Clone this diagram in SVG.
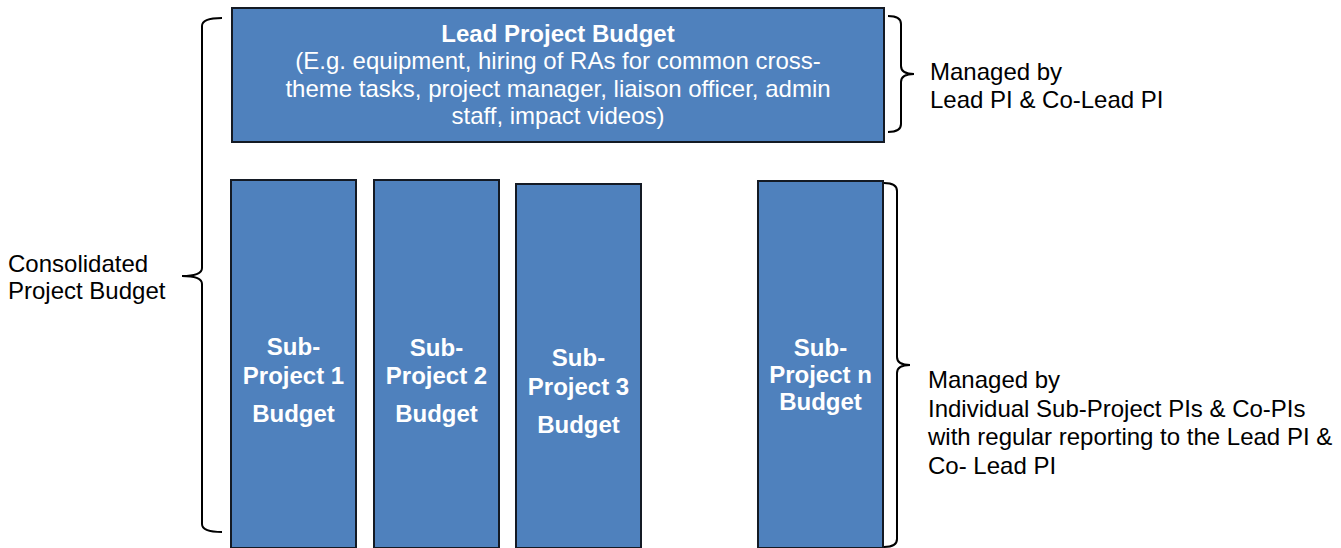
<svg xmlns="http://www.w3.org/2000/svg" width="1341" height="548" viewBox="0 0 1341 548">
<style>
.box{fill:#4F81BD;stroke:#141a24;stroke-width:2}
.br{fill:none;stroke:#000;stroke-width:2}
.wb{font-family:"Liberation Sans",Arial,sans-serif;font-size:24px;font-weight:bold;fill:#fff;text-anchor:middle}
.w{font-family:"Liberation Sans",Arial,sans-serif;font-size:24px;fill:#fff;text-anchor:middle}
.k{font-family:"Liberation Sans",Arial,sans-serif;font-size:24px;fill:#000}
</style>
<rect width="1341" height="548" fill="#fff"/>
<g id="lead">
<rect class="box" x="232" y="8" width="652" height="134"/>
<text class="wb" x="558" y="42">Lead Project Budget</text>
<text class="w" x="558" y="69">(E.g. equipment, hiring of RAs for common cross-</text>
<text class="w" x="558" y="96.5">theme tasks, project manager, liaison officer, admin</text>
<text class="w" x="558" y="124">staff, impact videos)</text>
</g>
<g id="sub1">
<rect class="box" x="231" y="180" width="125" height="368"/>
<text class="wb" x="293.5" y="355">Sub-</text>
<text class="wb" x="293.5" y="384">Project 1</text>
<text class="wb" x="293.5" y="422">Budget</text>
</g>
<g id="sub2">
<rect class="box" x="374" y="180" width="125" height="368"/>
<text class="wb" x="436.5" y="356">Sub-</text>
<text class="wb" x="436.5" y="384">Project 2</text>
<text class="wb" x="436.5" y="422">Budget</text>
</g>
<g id="sub3">
<rect class="box" x="516" y="184" width="125" height="364"/>
<text class="wb" x="578.5" y="366">Sub-</text>
<text class="wb" x="578.5" y="395">Project 3</text>
<text class="wb" x="578.5" y="433">Budget</text>
</g>
<g id="subn">
<rect class="box" x="758" y="181" width="125" height="367"/>
<text class="wb" x="820.5" y="356">Sub-</text>
<text class="wb" x="820.5" y="383">Project n</text>
<text class="wb" x="820.5" y="410">Budget</text>
</g>
<g id="connectors">
<path class="br" d="M222,18 Q202,18 202,26 L202,268 Q202,276 182,276 Q202,276 202,284 L202,524 Q202,532 222,532"/>
<path class="br" d="M888,16 Q901,16 901,24 L901,66 Q901,74 914,74 Q901,74 901,82 L901,124 Q901,132 888,132"/>
<path class="br" d="M884,183 Q897,183 897,191 L897,357 Q897,365 910,365 Q897,365 897,373 L897,539 Q897,547 884,547"/>
</g>
<g id="labels">
<text class="k" x="8" y="272">Consolidated</text>
<text class="k" x="8" y="299">Project Budget</text>
<text class="k" x="930" y="80">Managed by</text>
<text class="k" x="930" y="108">Lead PI &amp; Co-Lead PI</text>
<text class="k" x="928" y="388">Managed by</text>
<text class="k" x="928" y="416.5">Individual Sub-Project PIs &amp; Co-PIs</text>
<text class="k" x="928" y="445">with regular reporting to the Lead PI &amp;</text>
<text class="k" x="928" y="473.5">Co- Lead PI</text>
</g>
</svg>
